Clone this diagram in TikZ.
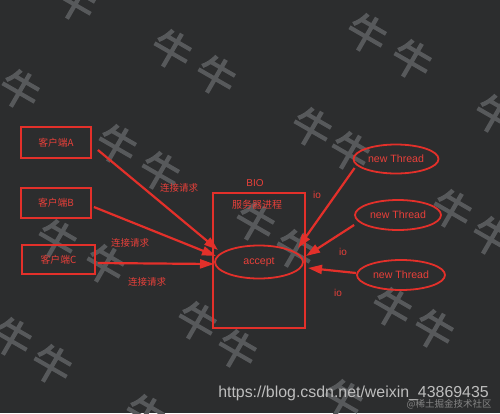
\documentclass[tikz,border=0pt]{standalone}
\usepackage{fontspec}
\setmainfont{Liberation Sans}
\newfontfamily\cjk{Noto Sans CJK SC}
\newfontfamily\wmfont{Noto Sans CJK SC}[FakeBold=3]
\usetikzlibrary{arrows.meta,shapes.geometric}
\definecolor{bgc}{HTML}{2C2D2E}
\definecolor{rd}{HTML}{E3302A}
\definecolor{rdt}{HTML}{E8403A}
\definecolor{wmc}{HTML}{57595B}
\definecolor{urlc}{HTML}{BEBEBE}
\definecolor{subc}{HTML}{858585}
\begin{document}
\begin{tikzpicture}[x=1pt,y=-1pt,
  wm/.style={text=wmc,font=\wmfont\fontsize{40}{40}\selectfont,rotate=-30,inner sep=0pt},
  cbox/.style={draw=rd,line width=1.8pt,inner sep=0pt,text=rdt,font=\cjk\fontsize{9.8}{10}\selectfont},
  oval/.style={ellipse,draw=rd,line width=1.8pt,inner sep=0pt,text=rdt,font=\fontsize{10.6}{11}\selectfont},
  lbl/.style={text=rdt,inner sep=0pt,font=\cjk\fontsize{9.5}{10}\selectfont},
  lat/.style={text=rdt,inner sep=0pt,font=\fontsize{10}{11}\selectfont},
  arr/.style={draw=rd,line width=2.2pt,-{Triangle[length=14pt,width=9pt]}}]
\fill[bgc] (0,0) rectangle (500,413);
\useasboundingbox (0,0) rectangle (500,413);
% watermarks
\foreach \i/\p in {w1/{(76,2)},w2/{(172,50)},w3/{(216,76)},w4/{(20,90)},w5/{(367,34)},w6/{(412,60)},
  w7/{(312,128)},w8/{(350,152)},w9/{(495,115)},w10/{(117,145)},w11/{(160,172)},w12/{(57,240)},
  w13/{(105,265)},w14/{(255,223)},w15/{(295,250)},w16/{(452,210)},w17/{(492,237)},w18/{(392,308)},
  w19/{(434,330)},w20/{(12,338)},w21/{(52,365)},w22/{(197,322)},w23/{(237,350)},w24/{(145,415)},w25/{(343,400)}}
  {\node[wm] (\i) at \p {牛};}
% client boxes
\node[cbox,minimum width=70pt,minimum height=31pt] (ca) at (56,142.5) {客户端A};
\node[cbox,minimum width=70pt,minimum height=30pt] (cb) at (56,203) {客户端B};
\node[cbox,minimum width=73pt,minimum height=29pt] (cc) at (58.5,259.5) {客户端C};
% server
\node[draw=rd,line width=1.8pt,minimum width=92pt,minimum height=135pt,inner sep=0pt] (srv) at (259,260.5) {};
\node[lat] (bio) at (255,183) {BIO};
\node[lbl,font=\cjk\fontsize{10}{11}\selectfont] (proc) at (257,205) {服务器进程};
\node[oval,minimum width=88pt,minimum height=33pt] (acc) at (259,262) {accept};
% threads
\node[oval,minimum width=85pt,minimum height=29pt] (t1) at (396,159) {new Thread};
\node[oval,minimum width=86pt,minimum height=30pt] (t2) at (398,215) {new Thread};
\node[oval,minimum width=88pt,minimum height=30pt] (t3) at (401,275) {new Thread};
% labels
\node[lbl] (l1) at (179,188) {连接请求};
\node[lbl] (l2) at (130,243) {连接请求};
\node[lbl] (l3) at (147,282) {连接请求};
\node[lat] (io1) at (317,195) {io};
\node[lat] (io2) at (343,252) {io};
\node[lat] (io3) at (338,293) {io};
% arrow tips
\coordinate (ta) at (218,250);
\coordinate (tb) at (216,256);
\coordinate (tc) at (214,264);
\coordinate (tt1) at (298,248);
\coordinate (tt2) at (306,256);
\coordinate (tt3) at (308,268);
\draw[arr] ([shift={(6,7.5)}]ca.east) -- (ta);
\draw[arr] ([shift={(2,4)}]cb.east) -- (tb);
\draw[arr] ([shift={(2,3.5)}]cc.east) -- (tc);
\draw[arr] ([shift={(2,9)}]t1.west) -- (tt1);
\draw[arr] ([shift={(0,10)}]t2.west) -- (tt2);
\draw[arr] ([shift={(0,-2)}]t3.west) -- (tt3);
% footer
\node[text=urlc,inner sep=0pt,font=\fontsize{15.9}{16}\selectfont] (url) at (353.5,393) {https://blog.csdn.net/weixin\_43869435};
\node[text=subc,inner sep=0pt,font=\cjk\fontsize{9.5}{10}\selectfont] (sub) at (449,404) {@稀土掘金技术社区};
\end{tikzpicture}
\end{document}
